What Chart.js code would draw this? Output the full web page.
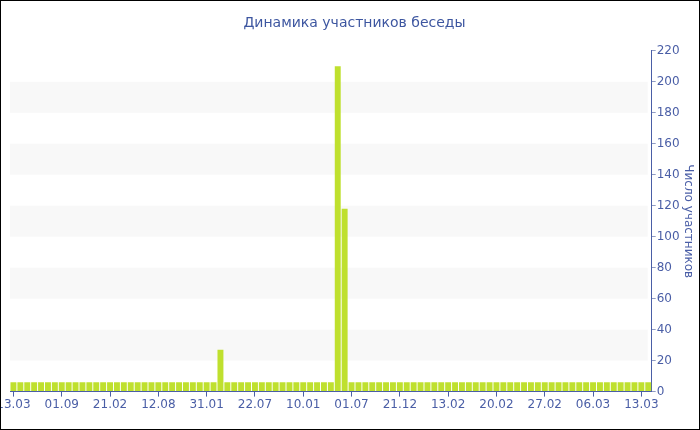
<!DOCTYPE html>
<html>
<head>
<meta charset="utf-8">
<script src="https://cdn.jsdelivr.net/npm/chart.js@4"></script>
<style>
	body { margin: 0; background: #fff; }
	#wrap { width: 698px; height: 428px; border: 1px solid #000; position: relative; }
</style>
</head>
<body>
<div id="wrap"><canvas id="chat"></canvas></div>
<script>
// подписи оси X (каждая 7-я категория)
var tickLabels = ['13.03', '01.09', '21.02', '12.08', '31.01', '22.07', '10.01', '01.07', '21.12', '13.02', '20.02', '27.02', '06.03', '13.03'];
var tickStep = 7;
var barCount = 93;
var baseCount = 6;
// всплески: индекс категории -> число участников
var spikeIndex = [30, 47, 48];
var spikeValue = [27, 210, 118];
var yTicks = [0, 20, 40, 60, 80, 100, 120, 140, 160, 180, 200, 220];

var labels = [];
var members = [];
for (var i = 0; i < barCount; i++) {
	labels.push(i % tickStep == 0 && tickLabels[i / tickStep] ? tickLabels[i / tickStep] : '');
	members.push(baseCount);
}
for (var k = 0; k < spikeIndex.length; k++) {
	members[spikeIndex[k]] = spikeValue[k];
}

var axisColor = '#4a5ea6';
var textColor = '#4a5ea6';

// серые полосы между линиями сетки
var bands = {
	id: 'bands',
	beforeDatasetsDraw: function(chart) {
		var ctx = chart.ctx, area = chart.chartArea, y = chart.scales.y;
		ctx.save();
		ctx.fillStyle = '#f8f8f8';
		for (var v = 20; v < 220; v += 40) {
			var top = y.getPixelForValue(v + 20);
			var bottom = y.getPixelForValue(v);
			ctx.fillRect(area.left, top, area.right - area.left - 4, bottom - top);
		}
		ctx.restore();
	}
};

new Chart(document.getElementById('chat'), {
	type: 'bar',
	data: {
		labels: labels,
		datasets: [{
			label: 'Участники',
			data: members,
			backgroundColor: '#bfe02e',
			borderWidth: 0,
			barPercentage: 0.86,
			categoryPercentage: 1
		}]
	},
	options: {
		responsive: true,
		maintainAspectRatio: false,
		animation: false,
		layout: {
			padding: { left: 9, right: 0, top: 0, bottom: 16 }
		},
		plugins: {
			legend: { display: false },
			tooltip: { enabled: false },
			title: {
				display: true,
				text: 'Динамика участников беседы',
				color: '#3d56a0',
				font: { family: 'DejaVu Sans', size: 14, weight: 'normal' },
				padding: { top: 14, bottom: 19 }
			}
		},
		scales: {
			x: {
				offset: true,
				afterFit: function(scale) { scale.paddingLeft = 0; scale.paddingRight = 0; },
				border: { color: axisColor, width: 1 },
				grid: {
					display: true,
					drawOnChartArea: false,
					drawTicks: true,
					tickLength: 5,
					offset: false,
					tickColor: function(c) { return labels[c.index] ? axisColor : 'rgba(0,0,0,0)'; }
				},
				ticks: {
					autoSkip: false,
					maxRotation: 0,
					padding: 1,
					color: textColor,
					font: { family: 'DejaVu Sans', size: 12 }
				}
			},
			y: {
				position: 'right',
				min: 0,
				max: 220,
				border: { color: axisColor, width: 1 },
				grid: {
					drawOnChartArea: false,
					tickLength: 4,
					tickColor: '#8f9bc4'
				},
				ticks: {
					stepSize: 10,
					padding: 1,
					color: textColor,
					font: { family: 'DejaVu Sans', size: 12 },
					callback: function(v) { return yTicks.indexOf(v) >= 0 ? v : ''; }
				},
				title: {
					display: true,
					text: 'Число участников',
					color: textColor,
					font: { family: 'DejaVu Sans', size: 12 },
					padding: { top: 4, bottom: 0 }
				}
			}
		}
	},
	plugins: [bands]
});
</script>
</body>
</html>
